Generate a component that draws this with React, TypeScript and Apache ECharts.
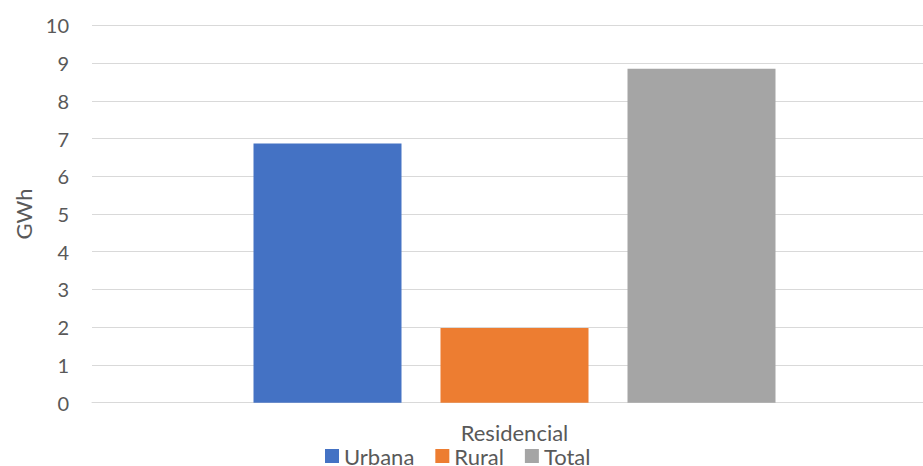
import React, { useEffect, useRef } from "react";
import * as echarts from "echarts";

const categories = ["Residencial"];
const seriesNames = ["Urbana", "Rural", "Total"];
const urbana = [6.87];
const rural = [1.98];
const total = [8.85];
const colors = ["#4472C4", "#ED7D31", "#A5A5A5"];
const yTicks = { min: 0, max: 10, interval: 1 };

export default function App() {
  const ref = useRef<HTMLDivElement>(null);

  useEffect(() => {
    if (!ref.current) return;
    const chart = echarts.init(ref.current, null, { renderer: "svg" });
    const font = "Lato, 'Open Sans', sans-serif";
    const values = [urbana, rural, total];
    chart.setOption({
      animation: false,
      textStyle: { fontFamily: font },
      // plot area runs slightly past the visible right edge
      grid: { left: 92, right: 0, top: 25.3, bottom: 63.3, containLabel: false },
      legend: {
        data: seriesNames,
        left: 320,
        top: 440,
        icon: "rect",
        itemWidth: 14,
        itemHeight: 14,
        itemGap: 21,
        textStyle: { fontSize: 22, lineHeight: 18, color: "#595959", fontFamily: font },
      },
      xAxis: {
        type: "category",
        data: categories,
        axisLine: { show: true, lineStyle: { color: "#D9D9D9", width: 1 } },
        axisTick: { show: false },
        axisLabel: { fontSize: 22, lineHeight: 18, color: "#595959", margin: 21, fontFamily: font },
      },
      yAxis: {
        type: "value",
        min: yTicks.min,
        max: yTicks.max,
        interval: yTicks.interval,
        name: "GWh",
        nameLocation: "middle",
        nameGap: 58,
        nameTextStyle: { fontSize: 22, color: "#595959", fontFamily: font },
        axisLine: { show: false },
        axisTick: { show: false },
        axisLabel: { fontSize: 20, color: "#595959", margin: 23, fontFamily: font },
        splitLine: { lineStyle: { color: "#D9D9D9", width: 1 } },
      },
      series: seriesNames.map((name, i) => ({
        name,
        type: "bar",
        data: values[i],
        barWidth: 148,
        barGap: "26.35%",
        itemStyle: { color: colors[i] },
      })),
    });
    return () => chart.dispose();
  }, []);

  return (
    <div style={{ width: 923, height: 466, position: "absolute", left: 0, top: 0, overflow: "hidden" }}>
      <div ref={ref} style={{ width: 937, height: 466 }} />
    </div>
  );
}
